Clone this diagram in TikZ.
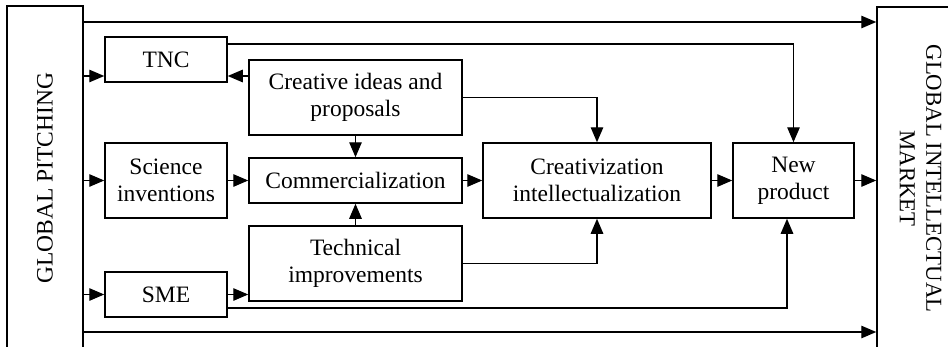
\documentclass[tikz,border=0pt]{standalone}
\usepackage{fontspec}
\setmainfont{Liberation Serif}
\usetikzlibrary{arrows.meta,calc}
\begin{document}
\begin{tikzpicture}[x=1pt,y=-1pt,
  every node/.style={font=\fontsize{23.5}{27}\selectfont},
  box/.style={draw,line width=1.5pt,rectangle,align=center,inner sep=0pt},
  arr/.style={line width=1.3pt,-{Triangle[length=15pt,width=12.5pt]}},
  ln/.style={line width=1.3pt}]
\useasboundingbox (0,0) rectangle (948,346);
\clip (0,0) rectangle (948,346);
\fill[white] (0,0) rectangle (948,346);

% side panels (open towards the bottom edge)
\node[box,minimum width=76pt,minimum height=344pt] (pitch) at (45,178)
  {\rotatebox{90}{GLOBAL PITCHING}};
\node[box,minimum width=83pt,minimum height=343pt] (market) at (918.5,178.5)
  {\rotatebox{-90}{\fontsize{22.8}{27}\selectfont\begin{tabular}{c}GLOBAL INTELLECTUAL\\[-0.5pt] MARKET\end{tabular}}};

% inner boxes
\node[box,minimum width=122pt,minimum height=45pt] (tnc) at (166,59.5) {TNC};
\node[box,minimum width=213pt,minimum height=75pt] (creative) at (355.5,97.5) {Creative ideas and\\proposals};
\node[box,minimum width=122pt,minimum height=75pt] (science) at (166,180.5) {Science\\inventions};
\node[box,minimum width=213pt,minimum height=45pt] (comm) at (355.5,180.5) {Commercialization};
\node[box,minimum width=213pt,minimum height=75pt] (tech) at (355.5,263.5) {Technical\\improvements};
\node[box,minimum width=122pt,minimum height=45pt] (sme) at (166,294.5) {SME};
\node[box,minimum width=228pt,minimum height=75pt] (creat) at (597,180.5) {Creativization\\intellectualization};
\node[box,minimum width=121pt,minimum height=75pt] (newp) at (793.5,180.5) {New\\product};

% routing rows and columns
\coordinate (rowtop) at (0,22);
\coordinate (rowbot) at (0,332);
\coordinate (rowtnc) at (0,76);
\coordinate (rowtncout) at (0,44);
\coordinate (rowsme) at (0,308);
\coordinate (colnewin) at (787,0);

% long bypass lines
\draw[arr] (pitch.east |- rowtop) -- (market.west |- rowtop);
\draw[arr] (pitch.east |- rowbot) -- (market.west |- rowbot);

% inputs from the left panel
\draw[arr] (pitch.east |- rowtnc) -- (tnc.west |- rowtnc);
\draw[arr] (pitch.east |- science.west) -- (science.west);
\draw[arr] (pitch.east |- sme.west) -- (sme.west);

% middle flows
\draw[arr] (creative.west |- rowtnc) -- (tnc.east |- rowtnc);
\draw[arr] (science.east) -- (comm.west);
\draw[arr] (sme.east) -- (tech.west |- sme.east);
\draw[arr] (creative.south) -- (comm.north);
\draw[arr] (tech.north) -- (comm.south);
\draw[arr] (comm.east) -- (creat.west);
\draw[arr] (creative.east) -| (creat.north);
\draw[arr] (tech.east) -| (creat.south);
\draw[arr] (creat.east) -- (newp.west);
\draw[arr] (newp.east) -- (market.west |- newp.east);

% direct routes to the new product
\draw[arr] (tnc.east |- rowtncout) -| (newp.north);
\draw[arr] (sme.east |- rowsme) -| (colnewin |- newp.south);
\end{tikzpicture}
\end{document}
